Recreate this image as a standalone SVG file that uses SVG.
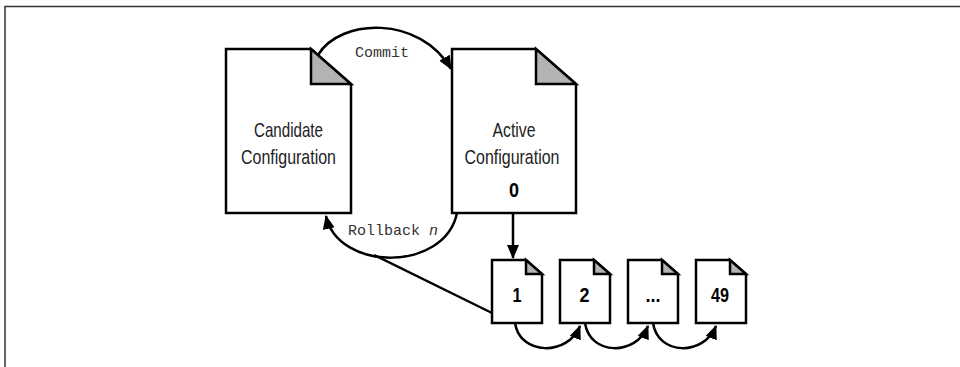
<svg xmlns="http://www.w3.org/2000/svg" width="960" height="367" viewBox="0 0 960 367">
<defs>
<style>
.doc{fill:#fff;stroke:#000;stroke-width:2.5;stroke-linejoin:miter}
.fold{fill:#b3b3b3;stroke:#000;stroke-width:2.5;stroke-linejoin:miter}
.lbl{font-family:"Liberation Sans",Arial,sans-serif;font-size:21px;fill:#222;text-anchor:middle}
.num{font-family:"Liberation Sans",Arial,sans-serif;font-size:21px;font-weight:bold;fill:#000;text-anchor:middle}
.mono{font-family:"Liberation Mono","Courier New",monospace;font-size:15px;fill:#333}
.conn{fill:none;stroke:#000;stroke-width:2.5}
</style>
<marker id="ah" markerUnits="userSpaceOnUse" markerWidth="14" markerHeight="12" refX="13" refY="6" orient="auto">
<path d="M0,0 L14,6 L0,12 Z" fill="#000"/>
</marker>
</defs>
<rect width="960" height="367" fill="#fff"/>
<path d="M5,367 V6.5 H960" fill="none" stroke="#333" stroke-width="1.5"/>

<g id="candidate">
<path class="doc" d="M226,49 H311 L351,84 V213 H226 Z"/>
<path class="fold" d="M311,49 V84 H351 Z"/>
<text class="lbl" x="288.5" y="137" textLength="69" lengthAdjust="spacingAndGlyphs">Candidate</text>
<text class="lbl" x="288.5" y="164" textLength="95" lengthAdjust="spacingAndGlyphs">Configuration</text>
</g>

<g id="active">
<path class="doc" d="M452,49 H536 L576,84 V213 H452 Z"/>
<path class="fold" d="M536,49 V84 H576 Z"/>
<text class="lbl" x="514" y="137" textLength="43" lengthAdjust="spacingAndGlyphs">Active</text>
<text class="lbl" x="512" y="164" textLength="95" lengthAdjust="spacingAndGlyphs">Configuration</text>
<text class="num" x="514" y="197" textLength="10" lengthAdjust="spacingAndGlyphs">0</text>
</g>

<g id="rev1">
<path class="doc" d="M492,260 H526 L542,274 V323 H492 Z"/>
<path class="fold" d="M526,260 V274 H542 Z"/>
<text class="num" x="517" y="302" textLength="9" lengthAdjust="spacingAndGlyphs">1</text>
</g>
<g id="rev2">
<path class="doc" d="M560,260 H594 L610,274 V323 H560 Z"/>
<path class="fold" d="M594,260 V274 H610 Z"/>
<text class="num" x="584.5" y="302" textLength="10" lengthAdjust="spacingAndGlyphs">2</text>
</g>
<g id="rev3">
<path class="doc" d="M628,260 H662 L678,274 V323 H628 Z"/>
<path class="fold" d="M662,260 V274 H678 Z"/>
<text class="num" x="653" y="302" textLength="15" lengthAdjust="spacingAndGlyphs">...</text>
</g>
<g id="rev49">
<path class="doc" d="M696,260 H730 L746,274 V323 H696 Z"/>
<path class="fold" d="M730,260 V274 H746 Z"/>
<text class="num" x="720" y="302" textLength="18" lengthAdjust="spacingAndGlyphs">49</text>
</g>

<g id="connectors">
<path class="conn" d="M318,55 C340,18 420,15 451,69" marker-end="url(#ah)"/>
<text class="mono" x="382" y="57" text-anchor="middle">Commit</text>
<path class="conn" d="M457,213 C445,272 338,272 326,216" marker-end="url(#ah)"/>
<text class="mono" x="348" y="235">Rollback <tspan font-style="italic">n</tspan></text>
<path class="conn" d="M492,313 L374,255"/>
<path class="conn" d="M513,213 V258" marker-end="url(#ah)"/>
<path class="conn" d="M515,323 C520,356 568,356 580,326" marker-end="url(#ah)"/>
<path class="conn" d="M585,323 C590,356 636,356 648,326" marker-end="url(#ah)"/>
<path class="conn" d="M653,323 C658,356 704,356 716,326" marker-end="url(#ah)"/>
</g>
</svg>
